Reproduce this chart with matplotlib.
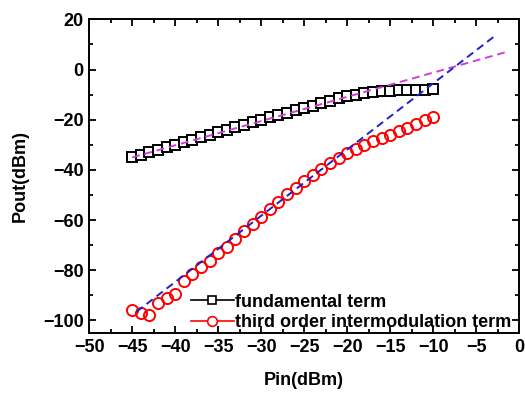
import matplotlib
matplotlib.use("Agg")
import matplotlib.pyplot as plt
from matplotlib.ticker import MultipleLocator
from matplotlib.lines import Line2D

pin = list(range(-45, -9))
fundamental = [-34.8, -33.9, -32.9, -31.9, -30.9, -29.9, -28.9, -27.9, -26.9, -25.9,
               -24.9, -23.9, -22.9, -21.9, -20.9, -19.9, -19.0, -18.1, -17.2, -16.3,
               -15.4, -14.5, -13.3, -12.4, -11.5, -10.7, -10.0, -9.4, -9.0, -8.6,
               -8.4, -8.2, -8.1, -8.0, -8.0, -7.9]
im3 = [-96.0, -97.1, -97.7, -93.1, -90.9, -89.4, -84.1, -81.5, -78.8, -76.2,
       -73.3, -70.6, -67.6, -64.3, -61.6, -58.6, -55.4, -52.8,
       -49.7, -47.1, -44.4, -42.1, -39.5, -37.1, -35.2, -33.2, -31.5, -29.9,
       -28.6, -27.2, -25.9, -24.3, -23.3, -21.5, -20.2, -18.9]

fit_fund_x = [-45.0, -1.5]
fit_fund_y = [-35.0, 7.0]
fit_im3_x = [-44.5, -2.8]
fit_im3_y = [-96.5, 13.5]

plt.rcParams['font.family'] = ['Liberation Sans', 'DejaVu Sans']
plt.rcParams['font.weight'] = 'bold'

fig = plt.figure(figsize=(5.25, 3.96), dpi=100)
ax = fig.add_axes([0.170, 0.159, 0.819, 0.792])

ax.plot(pin, fundamental, color='black', marker='s', markersize=7,
        markerfacecolor='white', markeredgecolor='black', markeredgewidth=1.4,
        linewidth=0, zorder=3)
ax.plot(pin, im3, color='red', marker='o', markersize=8,
        markerfacecolor='none', markeredgecolor='red', markeredgewidth=1.4,
        linewidth=0, zorder=3)
ax.plot(fit_fund_x, fit_fund_y, '--', color='#d040d8', linewidth=1.4, dashes=(4, 2.5), zorder=4)
ax.plot(fit_im3_x, fit_im3_y, '--', color='#2020c8', linewidth=1.4, dashes=(4, 2.5), zorder=4)

ax.set_xlim(-50, 0)
ax.set_ylim(-105, 20)
ax.xaxis.set_major_locator(MultipleLocator(5))
ax.xaxis.set_minor_locator(MultipleLocator(2.5))
ax.yaxis.set_major_locator(MultipleLocator(20))
ax.yaxis.set_minor_locator(MultipleLocator(10))
ax.tick_params(which='both', direction='in', top=True, right=True, width=1.3)
ax.tick_params(which='major', length=5, labelsize=13, pad=4)
ax.tick_params(which='minor', length=3)
for lab in ax.get_xticklabels() + ax.get_yticklabels():
    lab.set_fontweight('bold')
for s in ax.spines.values():
    s.set_linewidth(1.4)

ax.set_xlabel('Pin(dBm)', fontsize=13, fontweight='bold', labelpad=12)
ax.set_ylabel('Pout(dBm)', fontsize=13, fontweight='bold', labelpad=10)

h1 = Line2D([], [], color='black', linewidth=1.2, marker='s', markersize=6,
            markerfacecolor='white', markeredgecolor='black', markeredgewidth=1.2)
h2 = Line2D([], [], color='red', linewidth=1.2, marker='o', markersize=7,
            markerfacecolor='white', markeredgecolor='red', markeredgewidth=1.2)
leg = ax.legend([h1, h2], ['fundamental term', 'third order intermodulation term'],
                loc='lower left', bbox_to_anchor=(0.232, 0.0), frameon=False,
                handlelength=2.4, handletextpad=0.05, labelspacing=0.2,
                borderpad=0.1, borderaxespad=0.0,
                prop={'size': 13, 'weight': 'bold'})

fig.savefig('out.png', dpi=100)
